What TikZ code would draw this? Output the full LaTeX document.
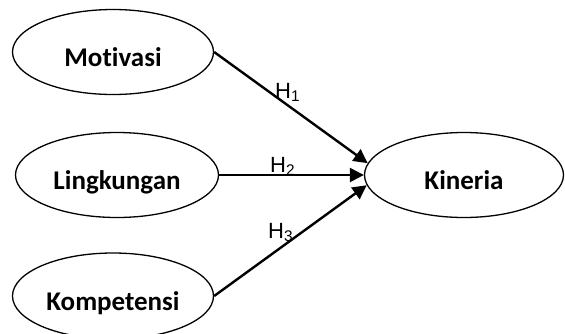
\documentclass[tikz,border=0pt]{standalone}
\usepackage{fontspec}
\setmainfont{Carlito}[Ligatures=NoCommon]
\newfontfamily\arial{Liberation Sans}
\usetikzlibrary{arrows.meta,shapes.geometric}
\def\lowtext#1{\raisebox{-14pt}[0pt][0pt]{#1}}
\tikzset{
	var/.style={ellipse, draw, line width=1.3pt, inner sep=0pt, minimum width=201pt, minimum height=85pt, font=\fontsize{27}{32}\selectfont\bfseries},
	path/.style={line width=2.4pt, -{Triangle[length=14pt,width=14pt]}},
	hyp/.style={inner sep=0pt, anchor=base west, font=\arial\fontsize{22}{26}\selectfont}
}

\begin{document}
\begin{tikzpicture}[x=1pt, y=-1pt]
		%%%%% START %%%%%
		
		\useasboundingbox (0, 0) rectangle (565, 333);
		
		\node[var] (mot) at (113, 52) {\lowtext{Motivasi}};
		\node[var, minimum width=203pt] (lin) at (117, 175) {\lowtext{Lingkungan}};
		\node[var, minimum height=86pt] (kom) at (113, 296) {\lowtext{Kompetensi}};
		\node[var, minimum width=199pt] (kin) at (464, 175) {\lowtext{Kineria}};
		
		\draw[path] (mot.east) -- (kin.173);
		\draw[path] (lin.east) -- (kin.west);
		\draw[path] (kom.east) -- (kin.186);
		
		\node[hyp] (h1) at (275, 98) {H\textsubscript{1}};
		\node[hyp] (h2) at (270, 172) {H\textsubscript{2}};
		\node[hyp] (h3) at (268, 238) {H\textsubscript{3}};
		
		%%%%% END %%%%%
	\end{tikzpicture}
\end{document}
